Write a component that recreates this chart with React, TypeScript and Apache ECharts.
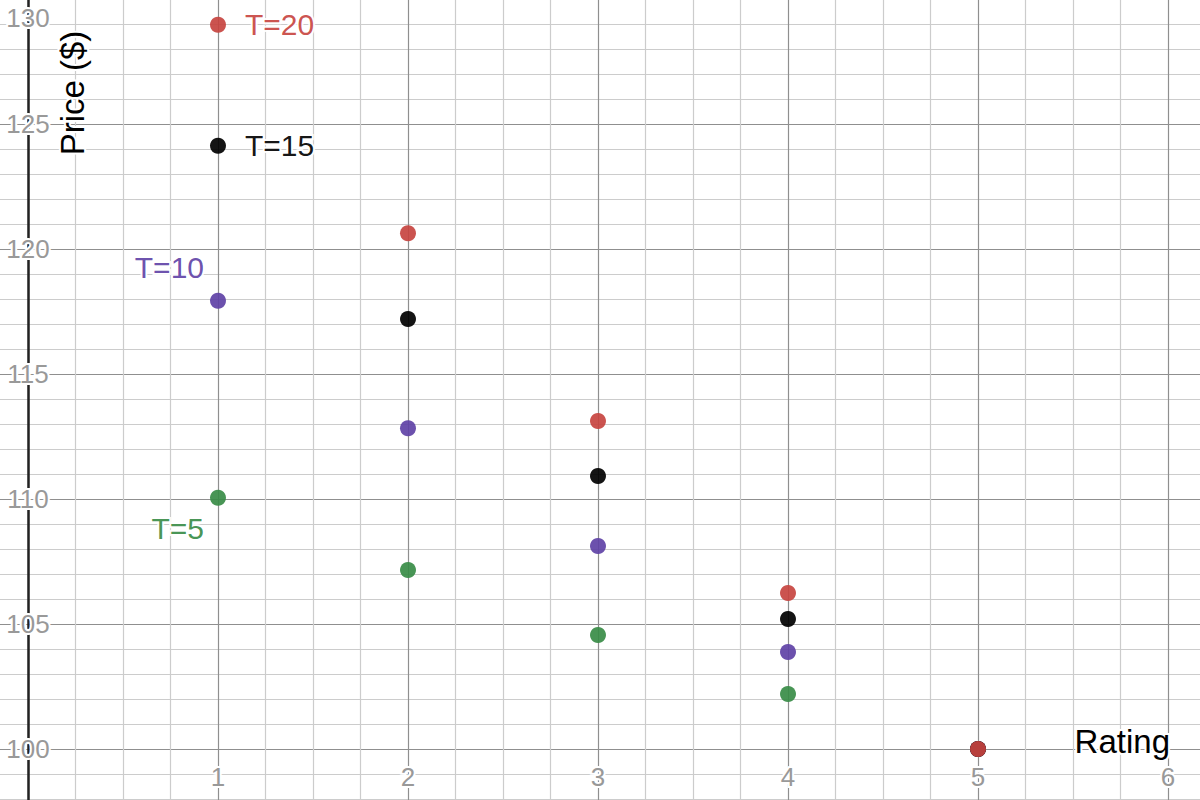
import React, { useEffect, useRef } from "react";
import * as echarts from "echarts";

const ratings = [1, 2, 3, 4, 5];
const t20 = [128.97, 120.63, 113.12, 106.24, 100];
const t15 = [124.13, 117.2, 110.92, 105.2, 100];
const t10 = [117.93, 112.83, 108.12, 103.88, 100];
const t5 = [110.05, 107.16, 104.56, 102.2, 100];

const xTickLabels = ["1", "2", "3", "4", "5", "6"];
const yTickLabels = ["100", "105", "110", "115", "120", "125", "130"];

const FONT = "'Liberation Sans', Arial, sans-serif";
const RED = "#c74440";
const BLACK = "#000000";
const PURPLE = "#6042a6";
const GREEN = "#388c46";

function makeSeries(name: string, values: number[], color: string, label: any) {
  return {
    name,
    type: "scatter",
    symbolSize: 16,
    itemStyle: { color, opacity: 0.92 },
    data: values.map((v, i) => {
      const d: any = { value: [ratings[i], v] };
      if (i === 0) d.label = label;
      return d;
    }),
    label: { show: false },
    z: 5,
  };
}

const labelBase = {
  show: true,
  fontSize: 30,
  fontFamily: FONT,
  textBorderColor: "#ffffff",
  textBorderWidth: 4,
};

export default function App() {
  const ref = useRef<HTMLDivElement>(null);
  useEffect(() => {
    if (!ref.current) return;
    const chart = echarts.init(ref.current, undefined, { renderer: "svg" });
    chart.setOption({
      animation: false,
      backgroundColor: "#ffffff",
      grid: {
        left: -162,
        right: -158,
        top: -126,
        bottom: -74,
        containLabel: false,
        outerBoundsMode: "none",
      },
      xAxis: {
        type: "value",
        min: -1,
        max: 7,
        interval: 1,
        offset: -97,
        axisLine: { show: false, onZero: false },
        axisTick: { show: false },
        axisLabel: {
          margin: 0,
          verticalAlign: "middle",
          fontSize: 26,
          fontFamily: FONT,
          color: "#999999",
          textBorderColor: "#ffffff",
          textBorderWidth: 4,
          formatter: (v: number) => {
            const s = String(v);
            return xTickLabels.includes(s) ? s : "";
          },
        },
        splitLine: { show: true, lineStyle: { color: "#8f8f8f", width: 1.2 } },
        minorTick: { show: false, splitNumber: 4 },
        minorSplitLine: { show: true, lineStyle: { color: "#cccccc", width: 1.2 } },
      },
      yAxis: {
        type: "value",
        min: 95,
        max: 135,
        interval: 5,
        position: "left",
        offset: -190,
        axisLine: { show: true, onZero: false, lineStyle: { color: "#222222", width: 2.5 } },
        axisTick: { show: false },
        axisLabel: {
          margin: 0,
          align: "center",
          verticalAlign: "middle",
          fontSize: 26,
          fontFamily: FONT,
          color: "#999999",
          textBorderColor: "#ffffff",
          textBorderWidth: 4,
          formatter: (v: number) => {
            const s = String(v);
            if (!yTickLabels.includes(s)) return "";
            return s === "130" ? "{top|130}" : s;
          },
          rich: {
            top: {
              fontSize: 26,
              fontFamily: FONT,
              color: "#999999",
              textBorderColor: "#ffffff",
              textBorderWidth: 4,
              padding: [38, 0, 0, 0],
            },
          },
        },
        splitLine: { show: true, lineStyle: { color: "#8f8f8f", width: 1.2 } },
        minorTick: { show: false, splitNumber: 5 },
        minorSplitLine: { show: true, lineStyle: { color: "#cccccc", width: 1.2 } },
      },
      series: [
        makeSeries("T=5", t5, GREEN, {
          ...labelBase,
          formatter: "T=5",
          color: GREEN,
          position: "left",
          distance: 6,
          offset: [0, 31],
        }),
        makeSeries("T=10", t10, PURPLE, {
          ...labelBase,
          formatter: "T=10",
          color: PURPLE,
          position: "left",
          distance: 6,
          offset: [0, -33],
        }),
        makeSeries("T=15", t15, BLACK, {
          ...labelBase,
          formatter: "T=15",
          color: BLACK,
          position: "right",
          distance: 19,
        }),
        makeSeries("T=20", t20, RED, {
          ...labelBase,
          formatter: "T=20",
          color: RED,
          position: "right",
          distance: 19,
        }),
      ],
      graphic: [
        {
          type: "text",
          x: 72,
          y: 93,
          rotation: Math.PI / 2,
          z: 10,
          style: {
            text: "Price ($)",
            fontSize: 33,
            fontFamily: FONT,
            fill: "#000000",
            align: "center",
            verticalAlign: "middle",
            stroke: "#ffffff",
            lineWidth: 4,
          },
        },
        {
          type: "text",
          x: 1170,
          y: 741,
          z: 10,
          style: {
            text: "Rating",
            fontSize: 33,
            fontFamily: FONT,
            fill: "#000000",
            align: "right",
            verticalAlign: "middle",
            stroke: "#ffffff",
            lineWidth: 4,
          },
        },
      ],
    });
    return () => chart.dispose();
  }, []);
  return (
    <div
      ref={ref}
      style={{ position: "fixed", left: 0, top: 0, width: 1200, height: 800, overflow: "hidden" }}
    />
  );
}
